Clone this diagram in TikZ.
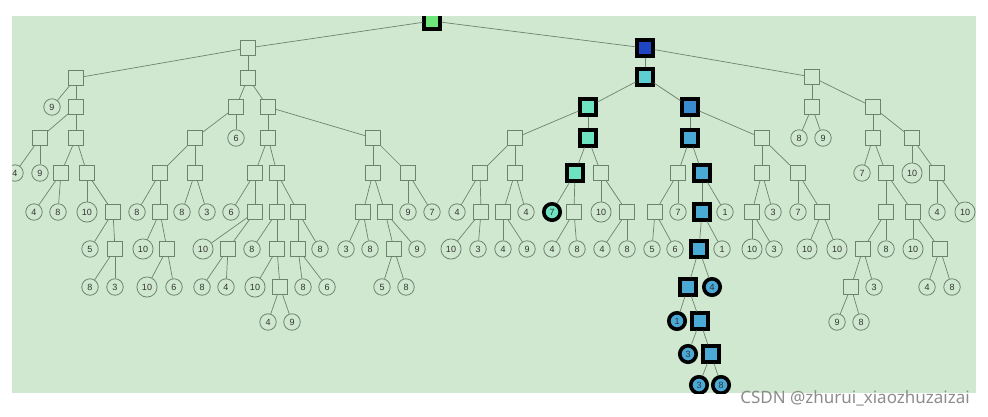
\documentclass[tikz,border=0pt]{standalone}
\usepackage{fontspec}
\setsansfont{Liberation Sans}
\newfontfamily\markfont{Noto Sans}
\usepackage{xcolor}
\usepackage{tikz}
\definecolor{bggreen}{HTML}{CFE8CF}
\definecolor{edgegrey}{HTML}{6F826F}
\definecolor{rootgreen}{HTML}{6EE67A}
\definecolor{darkblue}{HTML}{1E46C4}
\definecolor{tealblue}{HTML}{5DCFD3}
\definecolor{mint}{HTML}{6EE3BF}
\definecolor{midblue}{HTML}{3A8BD0}
\definecolor{skyblue}{HTML}{4BA9D6}

\begin{document}
\begin{tikzpicture}[x=1pt, y=-1pt,
  sq/.style={draw=edgegrey, line width=0.8pt, fill=bggreen, minimum size=15pt, inner sep=0pt},
  lf/.style={draw=edgegrey, line width=0.8pt, fill=bggreen, circle, minimum size=16pt, inner sep=3pt,
    font=\sffamily\fontsize{9}{9}\selectfont, text=black!80},
  hsq/.style={sq, draw=black, line width=3.6pt, minimum size=15.5pt},
  hlf/.style={lf, draw=black, line width=3.6pt},
  edge/.style={draw=edgegrey, line width=0.7pt}]
  \useasboundingbox (0,0) rectangle (988,416);
  \fill[bggreen] (12,16) rectangle (976,393);

  \begin{scope}
  \clip (12,16) rectangle (976,393);

  % Highlighted path
  \node[hsq, fill=rootgreen] (r) at (432,21) {};
  \node[hsq, fill=darkblue] (r2) at (645,48) {};
  \node[hsq, fill=tealblue] (r21) at (645,77) {};
  \node[hsq, fill=mint] (r211) at (588,107) {};
  \node[hsq, fill=mint] (r2112) at (588,138) {};
  \node[hsq, fill=mint] (r21121) at (575,173) {};
  \node[hlf, fill=mint] (r211211) at (552,212) {7};
  \node[hsq, fill=midblue] (r212) at (690,107) {};
  \node[hsq, fill=skyblue] (r2121) at (690,138) {};
  \foreach \n/\x/\y in {r21212/702/173, r212121/702/212, r2121211/699/249,
      r21212111/688/287, r212121112/700/321, r2121211122/711/354}
    \node[hsq, fill=skyblue] (\n) at (\x,\y) {};
  \foreach \n/\x/\y/\v in {r21212112/712/287/4, r212121111/677/321/1,
      r2121211121/688/354/3, r21212111221/699/385/3, r21212111222/721/385/8}
    \node[hlf, fill=skyblue] (\n) at (\x,\y) {\v};

  % Plain squares
  \foreach \n/\x/\y in {r1/248/48, r11/76/78, r112/76/107, r1121/40/138, r1122/76/138,
      r11221/61/173, r11222/87/173, r112222/113/212, r1122222/115/249,
      r12/248/78, r121/236/107, r1211/195/138, r12111/160/173, r121112/160/212,
      r1211122/167/249, r12112/195/173, r122/268/107, r1221/268/138,
      r12211/255/173, r122112/255/212, r1221122/228/249, r12212/277/173,
      r122121/277/212, r1221212/277/249, r12212122/280/287, r122122/298/212,
      r1221221/298/249, r1222/373/138, r12221/373/173, r122211/363/212,
      r122212/385/212, r1222121/394/249, r12222/408/173,
      r2111/515/138, r21111/480/173, r211112/481/212, r21112/515/173,
      r211121/503/212, r211212/574/212, r21122/601/173, r211222/627/212,
      r21211/678/173, r212111/655/212, r2122/762/138, r21221/762/173,
      r212211/752/212, r21222/798/173, r212222/822/212,
      r22/812/77, r221/812/107, r222/873/107, r2221/873/138, r22212/886/173,
      r222121/886/212, r2221211/863/249, r22212111/851/287, r222122/913/212,
      r2221222/940/249, r2222/912/138, r22222/937/173}
    \node[sq] (\n) at (\x,\y) {};

  % Leaves
  \foreach \n/\x/\y/\v in {r111/52/107/9, r11211/15/173/4, r11212/40/173/9,
      r112211/34/212/4, r112212/58/212/8, r112221/87/212/10, r1122221/90/249/5,
      r11222221/90/287/8, r11222222/115/287/3,
      r121111/137/212/8, r1211121/143/249/10, r12111221/147/287/10,
      r12111222/174/287/6, r121121/182/212/8, r121122/207/212/3, r1212/236/138/6,
      r122111/231/212/6, r1221121/203/249/10, r12211221/202/287/8,
      r12211222/226/287/4, r1221211/252/249/8, r12212121/255/287/10,
      r122121221/268/322/4, r122121222/292/322/9, r12212211/303/287/8,
      r12212212/327/287/6, r1221222/320/249/8, r1222111/346/249/3,
      r1222112/370/249/8, r12221211/382/287/5, r12221212/406/287/8,
      r1222122/417/249/9, r122221/408/212/9, r122222/432/212/7,
      r211111/457/212/4, r2111121/451/249/10, r2111122/478/249/3,
      r2111211/503/249/4, r2111212/527/249/9, r211122/526/212/4,
      r2112121/552/249/4, r2112122/577/249/8, r211221/601/212/10,
      r2112221/602/249/4, r2112222/627/249/8,
      r2121111/652/249/5, r2121112/675/249/6, r212112/678/212/7,
      r2121212/722/249/1, r212122/725/212/1,
      r2122111/752/249/10, r2122112/774/249/3, r212212/773/212/3,
      r212221/798/212/7, r2122221/807/249/10, r2122222/837/249/10,
      r2211/799/138/8, r2212/823/138/9, r22211/862/173/7,
      r222121111/837/322/9, r222121112/861/322/8, r22212112/874/287/3,
      r2221212/886/249/8, r2221221/913/249/10, r22212221/927/287/4,
      r22212222/952/287/8, r22221/912/173/10, r222221/937/212/4,
      r222222/965/212/10}
    \node[lf] (\n) at (\x,\y) {\v};

  % Connectors
  \foreach \p/\c in {r/r1, r/r2, r1/r11, r1/r12, r11/r111, r11/r112,
      r112/r1121, r112/r1122, r1121/r11211, r1121/r11212,
      r1122/r11221, r1122/r11222, r11221/r112211, r11221/r112212,
      r11222/r112221, r11222/r112222, r112222/r1122221, r112222/r1122222,
      r1122222/r11222221, r1122222/r11222222,
      r12/r121, r12/r122, r121/r1211, r121/r1212,
      r1211/r12111, r1211/r12112, r12111/r121111, r12111/r121112,
      r121112/r1211121, r121112/r1211122, r1211122/r12111221, r1211122/r12111222,
      r12112/r121121, r12112/r121122,
      r122/r1221, r122/r1222, r1221/r12211, r1221/r12212,
      r12211/r122111, r12211/r122112, r122112/r1221121, r122112/r1221122,
      r1221122/r12211221, r1221122/r12211222,
      r12212/r122121, r12212/r122122, r122121/r1221211, r122121/r1221212,
      r1221212/r12212121, r1221212/r12212122,
      r12212122/r122121221, r12212122/r122121222,
      r122122/r1221221, r122122/r1221222,
      r1221221/r12212211, r1221221/r12212212,
      r1222/r12221, r1222/r12222, r12221/r122211, r12221/r122212,
      r122211/r1222111, r122211/r1222112, r122212/r1222121, r122212/r1222122,
      r1222121/r12221211, r1222121/r12221212,
      r12222/r122221, r12222/r122222,
      r2/r21, r2/r22, r21/r211, r21/r212,
      r211/r2111, r211/r2112, r2111/r21111, r2111/r21112,
      r21111/r211111, r21111/r211112, r211112/r2111121, r211112/r2111122,
      r21112/r211121, r21112/r211122, r211121/r2111211, r211121/r2111212,
      r2112/r21121, r2112/r21122, r21121/r211211, r21121/r211212,
      r211212/r2112121, r211212/r2112122, r21122/r211221, r21122/r211222,
      r211222/r2112221, r211222/r2112222,
      r212/r2121, r212/r2122, r2121/r21211, r2121/r21212,
      r21211/r212111, r21211/r212112, r212111/r2121111, r212111/r2121112,
      r21212/r212121, r21212/r212122, r212121/r2121211, r212121/r2121212,
      r2121211/r21212111, r2121211/r21212112,
      r21212111/r212121111, r21212111/r212121112,
      r212121112/r2121211121, r212121112/r2121211122,
      r2121211122/r21212111221, r2121211122/r21212111222,
      r2122/r21221, r2122/r21222, r21221/r212211, r21221/r212212,
      r212211/r2122111, r212211/r2122112, r21222/r212221, r21222/r212222,
      r212222/r2122221, r212222/r2122222,
      r22/r221, r22/r222, r221/r2211, r221/r2212,
      r222/r2221, r222/r2222, r2221/r22211, r2221/r22212,
      r22212/r222121, r22212/r222122, r222121/r2221211, r222121/r2221212,
      r2221211/r22212111, r2221211/r22212112,
      r22212111/r222121111, r22212111/r222121112,
      r222122/r2221221, r222122/r2221222,
      r2221222/r22212221, r2221222/r22212222,
      r2222/r22221, r2222/r22222, r22222/r222221, r22222/r222222}
    \draw[edge] (\p) -- (\c);
  \end{scope}

  % Watermark
  \node[font=\markfont\fontsize{17}{17}\selectfont, text=black!45, inner sep=0pt]
    (mark) at (855,398) {CSDN @zhurui\_xiaozhuzaizai};
\end{tikzpicture}
\end{document}
